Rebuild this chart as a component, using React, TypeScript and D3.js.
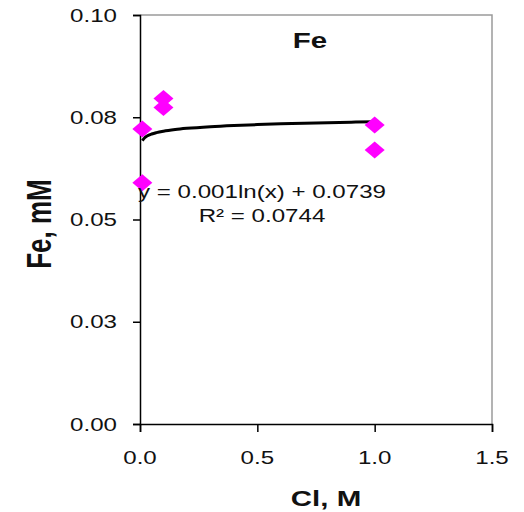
import React, { useRef, useEffect } from 'react';
import * as d3 from 'd3';

// measured points (Cl, M -> Fe, mM)
const clValues = [0.01, 0.01, 0.1, 0.1, 1.0, 1.0];
const feValues = [0.0721, 0.059, 0.0796, 0.0774, 0.0731, 0.067];

const xTicks = [0, 0.5, 1.0, 1.5];
const yTicks = [0, 0.025, 0.05, 0.075, 0.1];
const yTickLabels = ['0.00', '0.03', '0.05', '0.08', '0.10'];

// log trendline shown on the chart
const fitA = 0.001;
const fitB = 0.0739;
const fitXs = [0.01, 0.02, 0.03, 0.05, 0.07, 0.1, 0.15, 0.2, 0.3, 0.4, 0.5, 0.6, 0.7, 0.8, 0.9, 1.0];

const W = 524;
const H = 512;
const STRETCH = 1.34;
const FONT = '"Liberation Sans", Arial, sans-serif';

export default function App() {
  const svgRef = useRef<SVGSVGElement>(null);

  useEffect(() => {
    const svg = d3.select(svgRef.current);
    svg.selectAll('*').remove();

    const margin = { top: 15, right: 32, bottom: 88, left: 140 };
    const x = d3.scaleLinear().domain([0, 1.5]).range([margin.left, W - margin.right]);
    const y = d3.scaleLinear().domain([0, 0.1]).range([H - margin.bottom, margin.top]);

    const label = (tx: number, ty: number, text: string, size: number, anchor: string, bold = false, rot = 0) =>
      svg.append('text')
        .attr('transform', `translate(${tx},${ty}) scale(${STRETCH},1)${rot ? ` rotate(${rot})` : ''}`)
        .attr('text-anchor', anchor)
        .attr('font-family', FONT)
        .attr('font-size', size)
        .attr('font-weight', bold ? 'bold' : 'normal')
        .attr('fill', '#111')
        .text(text);

    // frame: grey top/right, black axes
    svg.append('path')
      .attr('d', `M${x(0)},${y(0.1)}H${x(1.5)}V${y(0)}`)
      .attr('fill', 'none').attr('stroke', '#9a9a9a').attr('stroke-width', 1.5);

    const yAxis = d3.axisLeft(y).tickValues(yTicks).tickSize(7).tickFormat(() => '');
    svg.append('g').attr('transform', `translate(${x(0)},0)`).call(yAxis)
      .call((g) => g.selectAll('path,line').attr('stroke', '#000').attr('stroke-width', 1.5));
    const xAxis = d3.axisBottom(x).tickValues(xTicks).tickSize(8).tickFormat(() => '');
    svg.append('g').attr('transform', `translate(0,${y(0)})`).call(xAxis)
      .call((g) => g.selectAll('path,line').attr('stroke', '#000').attr('stroke-width', 1.5));

    yTicks.forEach((t, i) => label(117, y(t) + 6.5, yTickLabels[i], 18, 'end'));
    xTicks.forEach((t) => label(x(t), 464, d3.format('.1f')(t), 18, 'middle'));

    // trendline
    const line = d3.line<number>().x((d) => x(d)).y((d) => y(fitA * Math.log(d) + fitB)).curve(d3.curveMonotoneX);
    svg.append('path').datum(fitXs).attr('d', line)
      .attr('fill', 'none').attr('stroke', '#000').attr('stroke-width', 3);

    // diamonds
    clValues.forEach((c, i) => {
      const cx = x(c);
      const cy = y(feValues[i]);
      svg.append('path')
        .attr('d', `M${cx},${cy - 8.5}L${cx + 10},${cy}L${cx},${cy + 8.5}L${cx - 10},${cy}Z`)
        .attr('fill', '#FF00FF');
    });

    label(310, 48, 'Fe', 22, 'middle', true);
    label(262, 198, 'y = 0.001ln(x) + 0.0739', 18, 'middle');
    label(262, 222, 'R² = 0.0744', 18, 'middle');
    label(326, 506, 'Cl, M', 22, 'middle', true);
    label(51, 224, 'Fe, mM', 26, 'middle', true, -90);
  }, []);

  return (
    <svg ref={svgRef} width={W} height={H}
      style={{ position: 'absolute', left: 0, top: 0, background: '#fff' }} />
  );
}
